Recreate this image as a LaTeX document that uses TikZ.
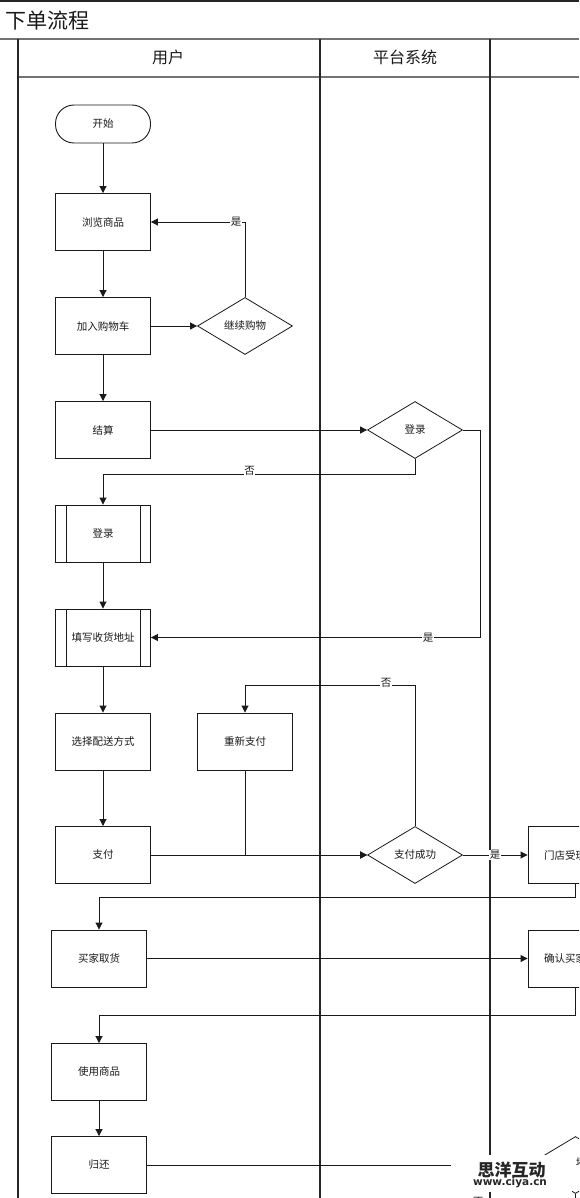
\documentclass[tikz,border=0pt]{standalone}
\usepackage{fontspec}
\setmainfont{Noto Sans CJK SC}
\newfontfamily\wmfont{DejaVu Sans}
\usetikzlibrary{arrows.meta,shapes.geometric}
\definecolor{ink}{HTML}{1A1A1A}
\tikzset{
  smalltext/.style={font=\fontsize{10.5}{12}\selectfont,text=ink},
  box/.style={draw=ink,line width=0.9pt,fill=white,minimum width=95pt,minimum height=57pt,inner sep=0pt,smalltext},
  startbox/.style={box,rounded corners=18.5pt,minimum height=38pt},
  choice/.style={diamond,aspect=1.667,draw=ink,line width=0.8pt,fill=white,minimum width=95pt,minimum height=57pt,inner sep=0pt,smalltext},
  conn/.style={draw=ink,line width=0.9pt},
  arr/.style={conn,-{Triangle[length=7pt,width=7pt]}},
  lbl/.style={fill=white,inner sep=0.5pt,smalltext},
  lane/.style={draw=black!85,line width=1.3pt},
  head/.style={draw=black!55,line width=1.4pt},
  headtext/.style={font=\fontsize{16}{18}\selectfont,text=ink}
}
\begin{document}
\begin{tikzpicture}[x=1pt,y=-1pt]
\useasboundingbox (0,0) rectangle (579,1198);
\clip (0,0) rectangle (579,1198);
\fill[white] (0,0) rectangle (579,1198);
% frame
\coordinate (tl) at (0,1); \coordinate (tr) at (579,1);
\coordinate (hl) at (0,39); \coordinate (hr) at (579,39);
\coordinate (sl) at (18,77); \coordinate (sr) at (579,77);
\draw[lane] (tl) -- (tr);
\draw[head] (hl) -- (hr);
\draw[head] (sl) -- (sr);
\draw[lane] (18,39) -- (18,1198);
\draw[lane] (320,39) -- (320,1198);
\draw[lane] (490,39) -- (490,1198);
\node[anchor=west,inner sep=0pt,font=\fontsize{21}{24}\selectfont,text=ink] (title) at (5,20.5) {下单流程};
\node[headtext] (h1) at (168,57) {用户};
\node[headtext] (h2) at (405,57) {平台系统};
% nodes
\node[startbox] (start) at (103,124) {开始};
\node[box] (browse) at (103,222) {浏览商品};
\node[box] (cart) at (103,326) {加入购物车};
\node[choice] (more) at (245,326) {继续购物};
\node[box] (pay1) at (103,430) {结算};
\node[choice] (chk) at (415,430) {登录};
\node[box] (login) at (103,533.5) {登录};
\node[box] (addr) at (103,637.5) {填写收货地址};
\node[box] (ship) at (103,741.5) {选择配送方式};
\node[box] (repay) at (245,741.5) {重新支付};
\node[box] (pay) at (103,855) {支付};
\node[choice] (ok) at (415,855) {支付成功};
\node[box] (store) at (575.5,855) {门店受理订单};
\node[box] (pick) at (99,958.5) {买家取货};
\node[box] (conf) at (575.5,958.5) {确认买家取货};
\node[box] (use) at (99,1072) {使用商品};
\node[box] (back) at (99,1165) {归还};
\node[choice] (dam) at (575.5,1165) {};
\coordinate (damout) at (575.5,1198);
% subprocess bars
\foreach \n in {login,addr}{
  \draw[conn] ([xshift=11pt]\n.north west) -- ([xshift=11pt]\n.south west);
  \draw[conn] ([xshift=-11pt]\n.north east) -- ([xshift=-11pt]\n.south east);
}
% connectors
\draw[arr] (start) -- (browse);
\draw[arr] (browse) -- (cart);
\draw[arr] (cart) -- (pay1);
\draw[arr] (cart) -- (more);
\draw[arr] (more.north) |- (browse.east) node[lbl,pos=0.547] {是};
\draw[arr] (pay1) -- (chk);
\coordinate (c1) at (415,474);
\coordinate (c2) at (103,474);
\draw[arr] (chk.south) -- (c1) -- (c2) node[lbl,pos=0.53,yshift=3pt] {否} -- (login.north);
\draw[arr] (login) -- (addr);
\coordinate (c3) at (480,430);
\coordinate (c4) at (480,637.5);
\draw[arr] (chk.east) -- (c3) -- (c4) -- (addr.east) node[lbl,pos=0.158] {是};
\draw[arr] (addr) -- (ship);
\draw[arr] (ship) -- (pay);
\draw[arr] (pay) -- (ok);
\draw[arr] (repay.south) |- (ok.west);
\coordinate (c5) at (415,685);
\coordinate (c6) at (245,685);
\draw[arr] (ok.north) -- (c5) -- (c6) node[lbl,pos=0.17,yshift=2pt] {否} -- (repay.north);
\draw[arr] (ok.east) -- (store.west) node[lbl,pos=0.5] {是};
\coordinate (c7) at (575.5,897);
\coordinate (c8) at (99,897);
\draw[arr] (store.south) -- (c7) -- (c8) -- (pick.north);
\draw[arr] (pick) -- (conf);
\coordinate (c9) at (575.5,1015);
\coordinate (c10) at (99,1015);
\draw[arr] (conf.south) -- (c9) -- (c10) -- (use.north);
\draw[arr] (use) -- (back);
\draw[conn] (back) -- (dam);
\draw[conn] (dam.south) -- (damout);
% watermark patch and what shows round it
\fill[white] (451,1155) rectangle (572,1192);
\fill[white] (466,1192) rectangle (488,1198);
\node[smalltext,inner sep=0pt] (dlab) at (581,1163) {坏};
\node[smalltext,inner sep=0pt] (nolab) at (478,1202) {否};
\node[font=\fontsize{17}{18}\bfseries\selectfont,text=black!85,inner sep=0pt] (wm1) at (511.5,1170) {思洋互动};
\node[font=\wmfont\fontsize{10.5}{12}\bfseries\selectfont,text=black!85,inner sep=0pt] (wm2) at (510,1183) {www.ciya.cn};
\end{tikzpicture}
\end{document}
